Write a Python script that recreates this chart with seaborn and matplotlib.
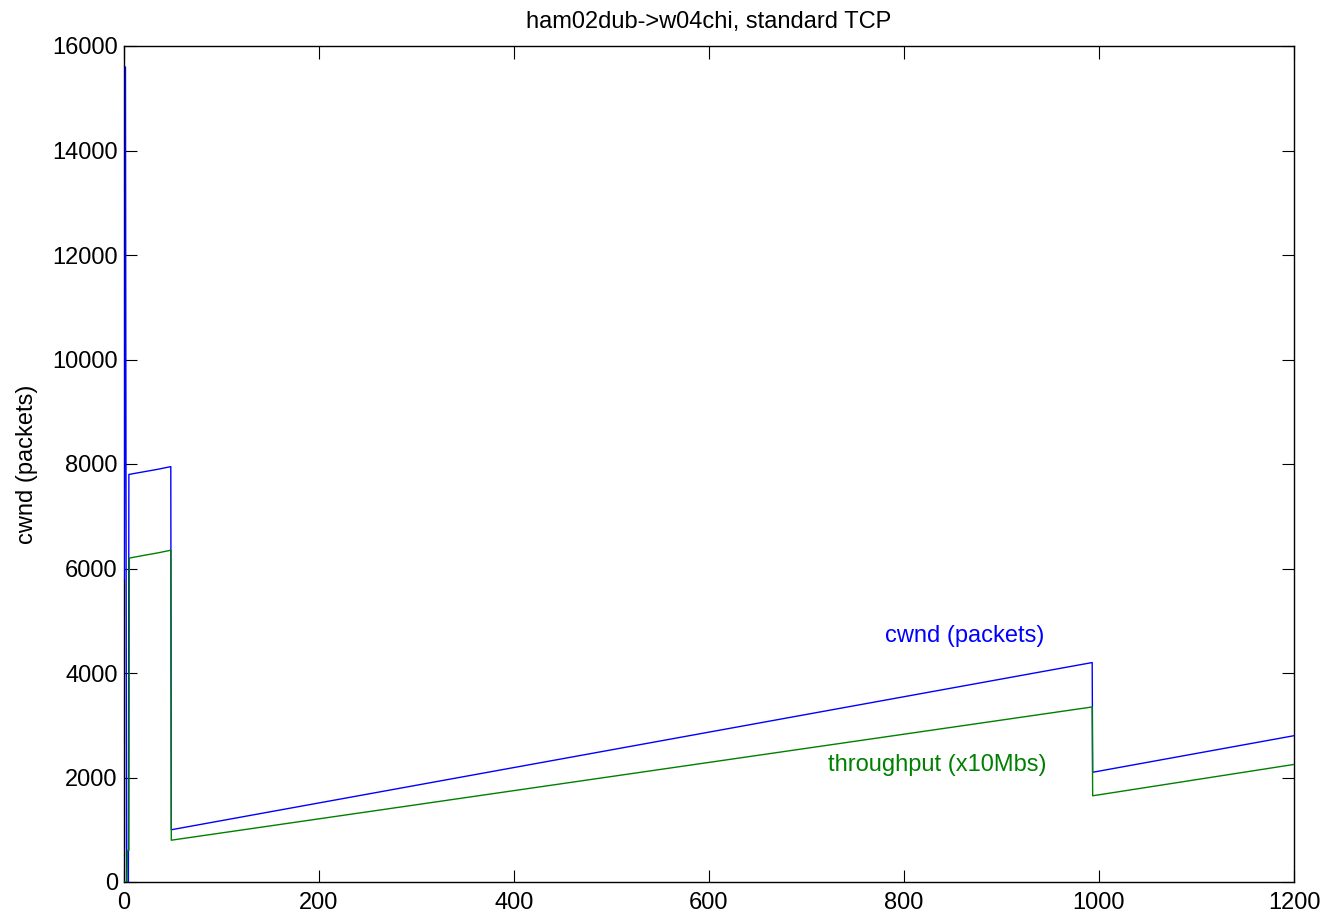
import numpy as np
import pandas as pd
import matplotlib
matplotlib.use("Agg")
import matplotlib.pyplot as plt
import seaborn as sns

# ========== data (time in s) ==========
cwnd_t = [0.3, 1.5, 2.6, 4.5, 5.0, 20, 35, 48, 48.5, 993, 993.5, 1200]
cwnd_v = [5800, 15600, 0, 0, 7800, 7850, 7900, 7950, 1000, 4200, 2100, 2800]

tput_t = [0.3, 3.0, 3.5, 5.0, 5.5, 20, 35, 48, 48.5, 993, 993.5, 1200]
tput_v = [0, 0, 600, 600, 6200, 6250, 6300, 6350, 800, 3350, 1650, 2250]

x_ticks = [0, 200, 400, 600, 800, 1000, 1200]
y_ticks = [0, 2000, 4000, 6000, 8000, 10000, 12000, 14000, 16000]

title = "ham02dub->w04chi, standard TCP"
blue = "#0000ff"
green = "#008000"

# ========== style ==========
sns.set_style("ticks")
plt.rcParams["font.family"] = ["Liberation Sans", "DejaVu Sans"]
plt.rcParams["xtick.direction"] = "in"
plt.rcParams["ytick.direction"] = "in"
plt.rcParams["text.color"] = "black"
plt.rcParams["axes.labelcolor"] = "black"
plt.rcParams["xtick.labelcolor"] = "black"
plt.rcParams["ytick.labelcolor"] = "black"

df_cwnd = pd.DataFrame({"t": cwnd_t, "v": cwnd_v})
df_tput = pd.DataFrame({"t": tput_t, "v": tput_v})

fig = plt.figure(figsize=(13.27, 9.15), dpi=100)
ax = fig.add_axes([124 / 1327, 33 / 915, 1170 / 1327, 836 / 915])

sns.lineplot(data=df_cwnd, x="t", y="v", color=blue, linewidth=1.0,
             sort=False, estimator=None, ax=ax, zorder=3)
sns.lineplot(data=df_tput, x="t", y="v", color=green, linewidth=1.0,
             sort=False, estimator=None, ax=ax, zorder=3)

ax.set_xlim(0, 1200)
ax.set_ylim(0, 16000)
ax.set_xticks(x_ticks)
ax.set_yticks(y_ticks)
ax.tick_params(axis="both", which="both", top=True, right=True,
               length=9, width=0.8, labelsize=17, color="black",
               labelcolor="black")
ax.tick_params(axis="x", pad=7)
ax.tick_params(axis="y", pad=4.5)
for sp in ax.spines.values():
    sp.set_visible(True)
    sp.set_linewidth(1.0)
    sp.set_color("black")

ax.set_xlabel("")
ax.set_ylabel("cwnd (packets)", fontsize=17, labelpad=10, color="black")
ax.set_title(title, fontsize=17, pad=13, color="black")

ax.text(862, 4710, "cwnd (packets)", color=blue, fontsize=17,
        ha="center", va="center")
ax.text(834, 2240, "throughput (x10Mbs)", color=green, fontsize=17,
        ha="center", va="center")

fig.savefig("out.png", dpi=100)
